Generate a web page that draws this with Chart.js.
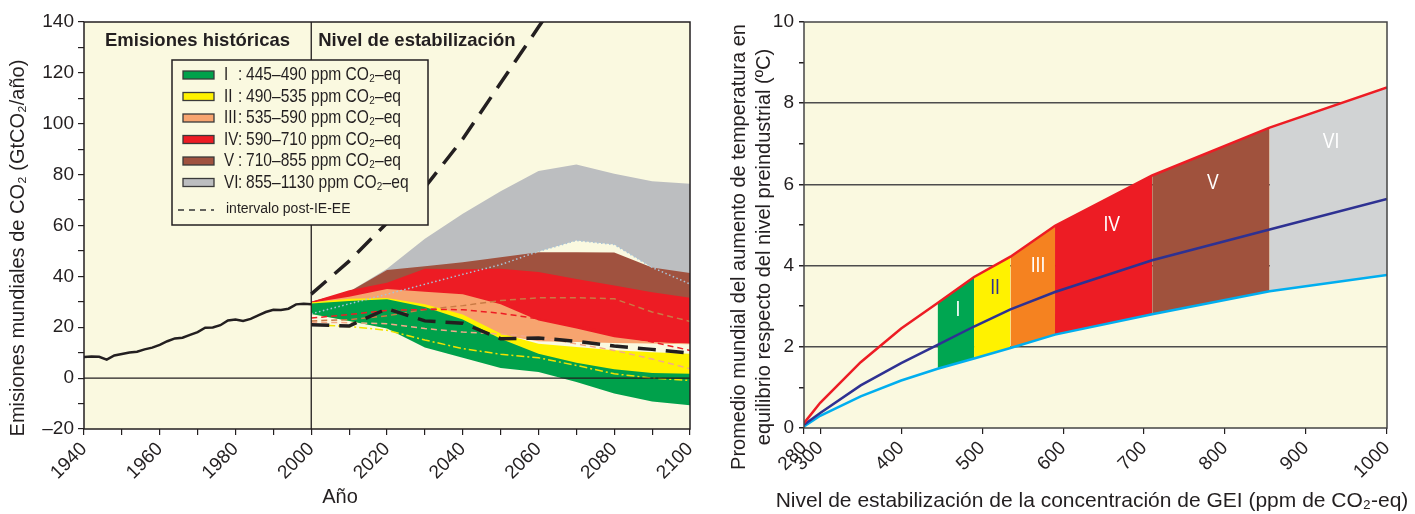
<!DOCTYPE html>
<html lang="es">
<head>
<meta charset="utf-8">
<title>Emisiones de CO2 y temperatura de equilibrio</title>
<script src="https://cdn.jsdelivr.net/npm/chart.js@4.4.1/dist/chart.umd.min.js"></script>
<style>
  body { margin: 0; background: #fff; }
  .wrap { position: relative; width: 1415px; height: 514px; }
  #emisChart { position: absolute; left: 0; top: 0; }
  #tempChart { position: absolute; left: 700px; top: 0; }
</style>
</head>
<body>
<div class="wrap">
  <canvas id="emisChart" width="700" height="514"></canvas>
  <canvas id="tempChart" width="715" height="514"></canvas>
</div>
<script>
// ---- Datos: emisiones históricas (GtCO2/año)
const anosHist = [1940, 1942, 1944, 1946, 1948, 1950, 1952, 1954, 1956, 1958, 1960, 1962, 1964, 1966, 1968, 1970,
  1972, 1974, 1976, 1978, 1980, 1982, 1984, 1986, 1988, 1990, 1992, 1994, 1996, 1998, 2000];
const emisHist = [8.3, 8.5, 8.4, 7.3, 8.9, 9.5, 10.1, 10.4, 11.3, 12.0, 13.1, 14.5, 15.6, 15.9, 17.0, 18.1,
  19.8, 19.9, 20.8, 22.7, 23.0, 22.5, 23.3, 24.7, 26.0, 26.9, 26.8, 27.3, 29.0, 29.2, 29.0];

// ---- Datos: escenarios de estabilización 2000-2100
const anosEsc = [2000, 2010, 2020, 2030, 2040, 2050, 2060, 2070, 2080, 2090, 2100];
const catISup = [29.3, 30.3, 31, 28, 23, 15.5, 9.6, 6, 3.5, 2, 1.7];
const catIInf = [25.2, 22.5, 19.5, 12, 8, 4, 2.4, -1.5, -6, -9.2, -10.7];
const catIISup = [29.7, 31.2, 31.5, 29, 25, 17.5, 13.5, 12.2, 11, 10.2, 9.6];
const catIIInf = [25.3, 22.6, 19.6, 15, 11.6, 9.4, 8, 5, 1.7, 0, -0.9];
const catIIISup = [29.6, 32, 35, 34, 33, 29, 22.7, 19.5, 16.1, 14.2, 13.5];
const catIIIInf = [25.5, 24, 23, 22, 20, 17, 14.5, 14.2, 13.8, 13.6, 13.3];
const catIVSup = [30, 34.5, 37.5, 43, 42.8, 43, 41.7, 39, 36.4, 33.8, 31.6];
const catIVInf = [26, 25, 25, 24, 22, 18, 15, 14.5, 14.2, 14, 13.5];
const catVSup = [30, 34, 42.5, 44, 45.6, 47.5, 49.5, 49.5, 49.4, 43.5, 41.3];
const catVInf = [28, 30, 32, 32, 32, 32, 31, 30, 30, 28, 26];
const catVISup = [30, 34, 43, 54.8, 64.6, 73.5, 81.4, 84, 80.3, 77.4, 76.4];
const catVIInf = [25.3, 29.2, 33, 36.9, 40.8, 44.6, 49.8, 54.1, 52.5, 43.5, 37];

// intervalo post-IE-EE (líneas negras discontinuas)
const postSup = [33, 46, 61, 75, 94, 116, 138, 160];
const postInf = [21, 20.5, 27.3, 22.5, 21.6, 15.5, 15.8, 14.5, 12.6, 11.3, 9.8];
// líneas discontinuas de color dentro de las bandas
const lineaAmarilla = [21, 20.3, 18.8, 15, 11.6, 9.4, 8, 5, 1.7, 0, -0.9];
const lineaRoja = [23.6, 25, 26.6, 27, 26.9, 25.5, 23.3, 20.7, 17.5, 14.2, 10.9];
const lineaNaranja = [22.5, 23, 24.5, 27, 28.5, 30.5, 31.6, 31.6, 31.2, 26, 22.3];
const lineaSalmon = [22, 21.8, 21.4, 19.5, 18.1, 17.4, 16, 13.5, 10.9, 7.5, 3.7];

const marcasXEmis = [1940, 1950, 1960, 1970, 1980, 1990, 2000, 2010, 2020, 2030, 2040, 2050, 2060, 2070, 2080, 2090, 2100];
const leyendaNum = ['I', 'II', 'III', 'IV', 'V', 'VI'];
const leyendaTxt = ['445–490 ppm CO₂–eq', '490–535 ppm CO₂–eq', '535–590 ppm CO₂–eq',
  '590–710 ppm CO₂–eq', '710–855 ppm CO₂–eq', '855–1130 ppm CO₂–eq'];

// ---- Datos: temperatura de equilibrio (ºC) según nivel de estabilización (ppm)
const ppm = [280, 300, 350, 400, 445, 490, 535, 590, 710, 855, 1000];
const tempAlta = [0.12, 0.62, 1.62, 2.45, 3.08, 3.72, 4.22, 4.98, 6.22, 7.4, 8.39];
const tempMejor = [0.08, 0.37, 1.05, 1.6, 2.05, 2.5, 2.92, 3.35, 4.13, 4.89, 5.64];
const tempBaja = [0.04, 0.3, 0.78, 1.17, 1.46, 1.71, 1.97, 2.3, 2.8, 3.37, 3.77];
const limitesCat = [445, 490, 535, 590, 710, 855, 1000];
const marcasXTemp = [280, 300, 400, 500, 600, 700, 800, 900, 1000];

// colores
const CREMA = '#faf9e0';
const TINTA = '#231f20';
const FUENTE = "'Liberation Sans', Arial, sans-serif";
const coloresEmis = ['#00a14b', '#fff200', '#f7a46f', '#ed1c24', '#a0523f', '#bcbec0'];
const coloresTemp = ['#00a651', '#fff200', '#f58220', '#ed1c24', '#a0523d', '#d1d3d4'];

function pts(xs, ys) {
  return ys.map((y, i) => ({ x: xs[i], y: y }));
}

function linea(xs, ys, color, ancho, guion) {
  return { data: pts(xs, ys), borderColor: color, borderWidth: ancho, borderDash: guion || [],
    fill: false, pointRadius: 0, clip: 0 };
}

function banda(xs, sup, inf, color) {
  return [
    { data: pts(xs, sup), backgroundColor: color, borderWidth: 0, fill: '+1', pointRadius: 0 },
    { data: pts(xs, inf), borderWidth: 0, fill: false, pointRadius: 0 }
  ];
}

// texto condensado (la fuente original es estrecha)
function textoEstrecho(ctx, txt, x, y, tam, factor) {
  ctx.save();
  ctx.translate(x, y);
  ctx.scale(factor, 1);
  ctx.font = tam + 'px ' + FUENTE;
  ctx.fillText(txt, 0, 0);
  ctx.restore();
}

// fondo crema del área de trazado
const fondoCrema = {
  id: 'fondoCrema',
  beforeDraw(chart) {
    const { ctx, chartArea: a } = chart;
    ctx.save();
    ctx.fillStyle = CREMA;
    ctx.fillRect(a.left, a.top, a.right - a.left, a.bottom - a.top);
    ctx.restore();
  }
};

// ---------- Gráfico izquierdo: emisiones
const decoEmis = {
  id: 'decoEmis',
  afterDatasetsDraw(chart) {
    const { ctx, chartArea: a, scales } = chart;
    const x2000 = scales.x.getPixelForValue(2000);
    const y0 = scales.y.getPixelForValue(0);
    ctx.save();
    ctx.strokeStyle = TINTA;
    ctx.lineWidth = 1.3;
    ctx.beginPath();
    ctx.moveTo(a.left, y0); ctx.lineTo(a.right, y0);
    ctx.moveTo(x2000, a.top); ctx.lineTo(x2000, a.bottom);
    ctx.stroke();
    ctx.lineWidth = 1.5;
    ctx.strokeRect(a.left, a.top, a.right - a.left, a.bottom - a.top);

    // encabezados
    ctx.fillStyle = TINTA;
    ctx.font = 'bold 18.5px ' + FUENTE;
    ctx.textBaseline = 'alphabetic';
    ctx.fillText('Emisiones históricas', a.left + 21, a.top + 24);
    ctx.fillText('Nivel de estabilización', x2000 + 7, a.top + 24);

    // leyenda
    const lx = a.left + 88, ly = a.top + 38, lw = 256, lh = 165;
    ctx.fillStyle = CREMA;
    ctx.fillRect(lx, ly, lw, lh);
    ctx.strokeStyle = TINTA;
    ctx.lineWidth = 1.5;
    ctx.strokeRect(lx, ly, lw, lh);
    ctx.textBaseline = 'middle';
    leyendaNum.forEach((n, i) => {
      const cy = ly + 15 + i * 21.5;
      ctx.fillStyle = coloresEmis[i];
      ctx.fillRect(lx + 11, cy - 4, 31, 8);
      ctx.strokeStyle = '#3a3a3a';
      ctx.lineWidth = 1.3;
      ctx.strokeRect(lx + 11, cy - 4, 31, 8);
      ctx.fillStyle = TINTA;
      textoEstrecho(ctx, n, lx + 52, cy, 19, 0.8);
      textoEstrecho(ctx, ':', lx + 66, cy, 19, 0.8);
      textoEstrecho(ctx, leyendaTxt[i], lx + 74, cy, 19, 0.82);
    });
    const dy = ly + 150;
    ctx.strokeStyle = '#333';
    ctx.lineWidth = 1.5;
    ctx.setLineDash([6, 5]);
    ctx.beginPath();
    ctx.moveTo(lx + 6, dy); ctx.lineTo(lx + 42, dy);
    ctx.stroke();
    ctx.setLineDash([]);
    ctx.fillStyle = TINTA;
    ctx.font = '14px ' + FUENTE;
    ctx.fillText('intervalo post-IE-EE', lx + 54, dy - 1);

    // títulos de los ejes
    ctx.font = '20px ' + FUENTE;
    ctx.textAlign = 'center';
    ctx.fillText('Año', 340, 497);
    ctx.translate(18, 248);
    ctx.rotate(-Math.PI / 2);
    ctx.fillText('Emisiones mundiales de CO₂ (GtCO₂/año)', 0, 0);
    ctx.restore();
  }
};

const dsEmis = [
  linea(anosHist, emisHist, TINTA, 2.5),
  linea(anosEsc, postSup, TINTA, 3.5, [20, 11]),
  linea(anosEsc, postInf, TINTA, 3.5, [18, 10]),
  linea(anosEsc, catVIInf, '#a8c3d6', 1.5, [1.5, 2.5]),
  linea(anosEsc, lineaAmarilla, '#f2e200', 1.5, [8, 3, 2, 3]),
  linea(anosEsc, lineaRoja, '#ed1c24', 1.5, [6, 4]),
  linea(anosEsc, lineaNaranja, '#c97a45', 1.5, [6, 4]),
  linea(anosEsc, lineaSalmon, '#f5aa8a', 1.5, [6, 4]),
  ...banda(anosEsc, catISup, catIInf, coloresEmis[0]),
  ...banda(anosEsc, catIISup, catIIInf, coloresEmis[1]),
  ...banda(anosEsc, catIIISup, catIIIInf, coloresEmis[2]),
  ...banda(anosEsc, catIVSup, catIVInf, coloresEmis[3]),
  ...banda(anosEsc, catVSup, catVInf, coloresEmis[4]),
  ...banda(anosEsc, catVISup, catVIInf, coloresEmis[5])
];

new Chart(document.getElementById('emisChart'), {
  type: 'line',
  data: { datasets: dsEmis },
  options: {
    responsive: false,
    animation: false,
    layout: { padding: { left: 0, right: 10, top: 22, bottom: 0 } },
    plugins: { legend: { display: false }, tooltip: { enabled: false } },
    elements: { line: { tension: 0 } },
    scales: {
      x: {
        type: 'linear', min: 1940, max: 2100,
        afterBuildTicks: s => { s.ticks = marcasXEmis.map(v => ({ value: v })); },
        afterFit: s => { s.height = 85; s.paddingLeft = 0; s.paddingRight = 0; },
        ticks: {
          autoSkip: false, maxRotation: 45, minRotation: 45, padding: 3, color: TINTA,
          font: { family: FUENTE, size: 19 },
          callback: v => (v % 20 === 0 ? String(v) : '')
        },
        grid: { drawOnChartArea: false, tickLength: 6, tickColor: TINTA, lineWidth: 1.2 },
        border: { display: false }
      },
      y: {
        type: 'linear', min: -20, max: 140,
        ticks: {
          stepSize: 10, autoSkip: false, padding: 4, color: TINTA,
          font: { family: FUENTE, size: 19 },
          callback: v => (v % 20 === 0 ? (v < 0 ? '–' + (-v) : String(v)) : '')
        },
        afterFit: s => { s.width = 84; s.paddingTop = 0; s.paddingBottom = 0; },
        grid: { drawOnChartArea: false, tickLength: 6, tickColor: TINTA, lineWidth: 1.2 },
        border: { display: false }
      }
    }
  },
  plugins: [fondoCrema, decoEmis]
});

// ---------- Gráfico derecho: temperatura
const decoTemp = {
  id: 'decoTemp',
  afterDatasetsDraw(chart) {
    const { ctx, chartArea: a, scales } = chart;
    ctx.save();
    ctx.strokeStyle = '#444';
    ctx.lineWidth = 1.5;
    ctx.strokeRect(a.left, a.top, a.right - a.left, a.bottom - a.top);

    // rótulos de las categorías dentro de las bandas
    const rotulos = [[470, 2.9, '#fff'], [516, 3.45, '#2e3192'], [569, 4.0, '#fff'],
      [660, 5.0, '#fff'], [785, 6.03, '#fff'], [931, 7.04, '#fff']];
    ctx.textBaseline = 'middle';
    rotulos.forEach((r, i) => {
      ctx.fillStyle = r[2];
      ctx.font = '22px ' + FUENTE;
      const w = ctx.measureText(leyendaNum[i]).width * 0.8;
      textoEstrecho(ctx, leyendaNum[i], scales.x.getPixelForValue(r[0]) - w / 2, scales.y.getPixelForValue(r[1]), 22, 0.8);
    });

    // títulos de los ejes
    ctx.fillStyle = TINTA;
    ctx.font = '21px ' + FUENTE;
    ctx.textAlign = 'center';
    ctx.textBaseline = 'alphabetic';
    ctx.fillText('Nivel de estabilización de la concentración de GEI (ppm de CO₂-eq)', 392, 507);
    ctx.font = '20px ' + FUENTE;
    ctx.translate(45, 247);
    ctx.rotate(-Math.PI / 2);
    ctx.fillText('Promedio mundial del aumento de temperatura en', 0, 0);
    ctx.fillText('equilibrio respecto del nivel preindustrial (ºC)', 0, 25);
    ctx.restore();
  }
};

const dsTemp = [
  linea(ppm, tempAlta, '#ed1c24', 2.5),
  linea(ppm, tempMejor, '#2e3192', 2.5),
  linea(ppm, tempBaja, '#00aeef', 2.5)
];
for (let i = 0; i < limitesCat.length - 1; i++) {
  const idx = ppm.map((p, k) => k).filter(k => ppm[k] >= limitesCat[i] && ppm[k] <= limitesCat[i + 1]);
  const xs = idx.map(k => ppm[k]);
  dsTemp.push(...banda(xs, idx.map(k => tempAlta[k]), idx.map(k => tempBaja[k]), coloresTemp[i]));
}

new Chart(document.getElementById('tempChart'), {
  type: 'line',
  data: { datasets: dsTemp },
  options: {
    responsive: false,
    animation: false,
    layout: { padding: { left: 0, right: 28, top: 22, bottom: 0 } },
    plugins: { legend: { display: false }, tooltip: { enabled: false } },
    elements: { line: { tension: 0 } },
    scales: {
      x: {
        type: 'linear', min: 280, max: 1000,
        afterBuildTicks: s => { s.ticks = marcasXTemp.map(v => ({ value: v })); },
        afterFit: s => { s.height = 86; s.paddingLeft = 0; s.paddingRight = 0; },
        ticks: {
          autoSkip: false, maxRotation: 45, minRotation: 45, padding: 3, color: TINTA,
          font: { family: FUENTE, size: 19 },
          callback: v => String(v)
        },
        grid: { drawOnChartArea: false, tickLength: 6, tickColor: TINTA, lineWidth: 1.2 },
        border: { display: false }
      },
      y: {
        type: 'linear', min: 0, max: 10,
        ticks: {
          stepSize: 1, autoSkip: false, padding: 5, color: TINTA,
          font: { family: FUENTE, size: 19 },
          callback: v => (v % 2 === 0 ? String(v) : '')
        },
        afterFit: s => { s.width = 104; s.paddingTop = 0; s.paddingBottom = 0; },
        grid: {
          drawOnChartArea: true, tickLength: 5, tickColor: TINTA, lineWidth: 1.5,
          color: c => (c.tick && c.tick.value % 2 === 0 && c.tick.value > 0 && c.tick.value < 10) ? '#4d4d4d' : 'rgba(0,0,0,0)'
        },
        border: { display: false }
      }
    }
  },
  plugins: [fondoCrema, decoTemp]
});
</script>
</body>
</html>
